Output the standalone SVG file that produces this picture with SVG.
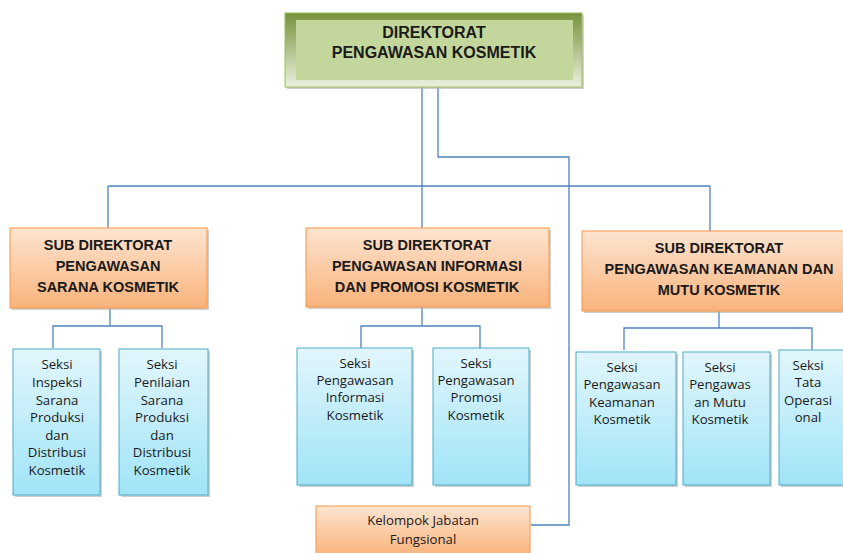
<svg xmlns="http://www.w3.org/2000/svg" width="843" height="553" viewBox="0 0 843 553">
<defs>
<linearGradient id="gTop" x1="0" y1="0" x2="0" y2="1">
<stop offset="0" stop-color="#76923C"/><stop offset="1" stop-color="#EBF1DE"/>
</linearGradient>
<linearGradient id="gOr" x1="0" y1="0" x2="0" y2="1">
<stop offset="0" stop-color="#FDE4D0"/><stop offset="1" stop-color="#F9B37B"/>
</linearGradient>
<linearGradient id="gBl" x1="0" y1="0" x2="0" y2="1">
<stop offset="0" stop-color="#E2F6FC"/><stop offset="1" stop-color="#A0E4F7"/>
</linearGradient>
</defs>
<style>
.con{fill:none;stroke:#4F81BD;stroke-width:1.3}
.sh{fill:#B0B0B0;opacity:0.6}
.or{fill:url(#gOr);stroke:#F79646;stroke-width:1}
.bl{fill:url(#gBl);stroke:#4BACC6;stroke-width:1}
.hd{font-family:"Liberation Sans",Arial,sans-serif;font-weight:bold;font-size:14.5px;fill:#1a1a1a;text-anchor:middle}
.tp{font-family:"Liberation Sans",Arial,sans-serif;font-weight:bold;font-size:16px;fill:#1a1a1a;text-anchor:middle}
.sx{font-family:"Open Sans","Liberation Sans",Arial,sans-serif;font-size:13.2px;fill:#1a1a1a;text-anchor:middle}
</style>
<rect width="843" height="553" fill="#FFFFFF"/>
<g id="connectors">
<path class="con" d="M422 87 V228"/>
<path class="con" d="M438 87 V157 H569 V525 H531"/>
<path class="con" d="M108 186 H710"/>
<path class="con" d="M108 186 V228"/>
<path class="con" d="M710 186 V231"/>
<path class="con" d="M110 308 V326 M53 348 V326 H162 V348"/>
<path class="con" d="M422 307 V326 M361 348 V326 H480 V348"/>
<path class="con" d="M719 311 V328 M624 350 V328 H812 V350"/>
</g>
<g id="direktorat">
<rect x="287" y="15" width="297" height="74" class="sh"/>
<rect x="285" y="13" width="297" height="74" fill="url(#gTop)" stroke="#9BBB59" stroke-width="1"/>
<rect x="296" y="20" width="277" height="60" fill="#C3D69B"/>
<text class="tp" x="434" y="38">DIREKTORAT</text>
<text class="tp" x="434" y="58">PENGAWASAN KOSMETIK</text>
</g>
<g id="sub1">
<rect x="12" y="230" width="197" height="80" class="sh"/>
<rect x="10" y="228" width="197" height="80" class="or"/>
<text class="hd" x="108" y="250">SUB DIREKTORAT</text>
<text class="hd" x="108" y="271">PENGAWASAN</text>
<text class="hd" x="108" y="292">SARANA KOSMETIK</text>
</g>
<g id="sub2">
<rect x="308" y="230" width="243" height="79" class="sh"/>
<rect x="306" y="228" width="243" height="79" class="or"/>
<text class="hd" x="427" y="250">SUB DIREKTORAT</text>
<text class="hd" x="427" y="271">PENGAWASAN INFORMASI</text>
<text class="hd" x="427" y="292">DAN PROMOSI KOSMETIK</text>
</g>
<g id="sub3">
<rect x="584" y="233" width="262" height="80" class="sh"/>
<rect x="582" y="231" width="262" height="80" class="or"/>
<text class="hd" x="719" y="253">SUB DIREKTORAT</text>
<text class="hd" x="719" y="274">PENGAWASAN KEAMANAN DAN</text>
<text class="hd" x="719" y="295">MUTU KOSMETIK</text>
</g>
<g id="seksi1">
<rect x="15" y="351" width="87" height="146" class="sh"/>
<rect x="13" y="349" width="87" height="146" class="bl"/>
<text class="sx" x="57" y="369">Seksi</text>
<text class="sx" x="57" y="387">Inspeksi</text>
<text class="sx" x="57" y="405">Sarana</text>
<text class="sx" x="57" y="422">Produksi</text>
<text class="sx" x="57" y="440">dan</text>
<text class="sx" x="57" y="457">Distribusi</text>
<text class="sx" x="57" y="475">Kosmetik</text>
</g>
<g id="seksi2">
<rect x="121" y="351" width="89" height="146" class="sh"/>
<rect x="119" y="349" width="89" height="146" class="bl"/>
<text class="sx" x="162" y="369">Seksi</text>
<text class="sx" x="162" y="387">Penilaian</text>
<text class="sx" x="162" y="405">Sarana</text>
<text class="sx" x="162" y="422">Produksi</text>
<text class="sx" x="162" y="440">dan</text>
<text class="sx" x="162" y="457">Distribusi</text>
<text class="sx" x="162" y="475">Kosmetik</text>
</g>
<g id="seksi3">
<rect x="299" y="350" width="115" height="137" class="sh"/>
<rect x="297" y="348" width="115" height="137" class="bl"/>
<text class="sx" x="355" y="368">Seksi</text>
<text class="sx" x="355" y="385">Pengawasan</text>
<text class="sx" x="355" y="402">Informasi</text>
<text class="sx" x="355" y="420">Kosmetik</text>
</g>
<g id="seksi4">
<rect x="435" y="350" width="96" height="137" class="sh"/>
<rect x="433" y="348" width="96" height="137" class="bl"/>
<text class="sx" x="476" y="368">Seksi</text>
<text class="sx" x="476" y="385">Pengawasan</text>
<text class="sx" x="476" y="402">Promosi</text>
<text class="sx" x="476" y="420">Kosmetik</text>
</g>
<g id="seksi5">
<rect x="578" y="354" width="100" height="133" class="sh"/>
<rect x="576" y="352" width="100" height="133" class="bl"/>
<text class="sx" x="622" y="372">Seksi</text>
<text class="sx" x="622" y="389">Pengawasan</text>
<text class="sx" x="622" y="407">Keamanan</text>
<text class="sx" x="622" y="424">Kosmetik</text>
</g>
<g id="seksi6">
<rect x="685" y="354" width="87" height="133" class="sh"/>
<rect x="683" y="352" width="87" height="133" class="bl"/>
<text class="sx" x="720" y="372">Seksi</text>
<text class="sx" x="720" y="389">Pengawas</text>
<text class="sx" x="720" y="407">an Mutu</text>
<text class="sx" x="720" y="424">Kosmetik</text>
</g>
<g id="seksi7">
<rect x="781" y="352" width="70" height="135" class="sh"/>
<rect x="779" y="350" width="70" height="135" class="bl"/>
<text class="sx" x="808" y="370">Seksi</text>
<text class="sx" x="808" y="387">Tata</text>
<text class="sx" x="808" y="405">Operasi</text>
<text class="sx" x="808" y="422">onal</text>
</g>
<g id="kelompok">
<rect x="316" y="506" width="214" height="50" class="or"/>
<text class="sx" x="423" y="525">Kelompok Jabatan</text>
<text class="sx" x="423" y="544">Fungsional</text>
</g>
</svg>
